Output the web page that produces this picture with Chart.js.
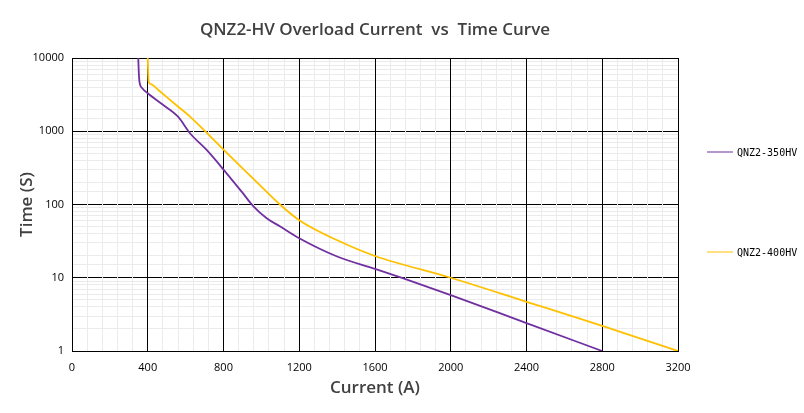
<!DOCTYPE html>
<html lang="en">

<head>
    <meta charset="UTF-8">
    <title>QNZ2-HV Overload Current vs Time Curve</title>
    <script src="https://cdn.jsdelivr.net/npm/chart.js"></script>
    <style>
        body {
            margin: 0;
            background: #ffffff;
        }

        .wrap {
            position: relative;
            width: 804px;
            height: 413px;
        }

        /* side legend, built from the datasets */
        .legend-item {
            position: absolute;
            left: 707px;
            display: flex;
            align-items: center;
            font-family: 'DejaVu Sans Mono', monospace;
            font-size: 10px;
            color: #000;
            transform: translateY(-50%);
        }

        .legend-item span.swatch {
            display: inline-block;
            width: 26px;
            height: 0;
            border-top: 1px solid;
            margin-right: 4px;
        }
    </style>
</head>

<body>
    <div class="wrap">
        <canvas id="curveChart"></canvas>
        <div id="legend"></div>
    </div>

    <script>
        // Data (current in A, time in s)
        const current350 = [350, 352, 356, 370, 400, 480, 560, 623, 711, 800, 900, 957, 1028, 1100, 1200, 1400, 1600, 1750, 2000, 2400, 2800];
        const time350 = [10000, 7000, 4800, 3900, 3300, 2300, 1580, 940, 555, 300, 145, 95, 65, 50, 34.6, 19.5, 13.2, 9.8, 5.8, 2.4, 1];

        const current400 = [400, 402, 405, 420, 456, 553, 623, 800, 1000, 1098, 1200, 1398, 1600, 2000, 2400, 2800, 3200];
        const time400 = [10000, 6500, 4750, 4370, 3650, 2250, 1580, 563, 175, 100, 61, 32.7, 19.8, 10, 4.7, 2.2, 1];

        const seriesNames = ['QNZ2-350HV', 'QNZ2-400HV'];
        const seriesColors = ['#7030a0', '#ffc000'];
        const legendY = [152, 252];

        const xMajor = [0, 400, 800, 1200, 1600, 2000, 2400, 2800, 3200];
        const yMajor = [1, 10, 100, 1000, 10000];

        function toPoints(xs, ys) {
            return xs.map((x, i) => ({ x: x, y: ys[i] }));
        }

        function isDecade(v) {
            return yMajor.includes(Math.round(v * 1000) / 1000);
        }

        const tickFont = { family: "'Open Sans', sans-serif", size: 11 };
        const titleFont = { family: "'Open Sans', sans-serif", size: 17, weight: '600' };

        const ctx = document.getElementById('curveChart').getContext('2d');
        const chart = new Chart(ctx, {
            type: 'line',
            data: {
                datasets: [
                    {
                        label: seriesNames[0],
                        data: toPoints(current350, time350),
                        borderColor: seriesColors[0],
                        borderWidth: 1.8,
                        pointRadius: 0,
                        fill: false,
                        cubicInterpolationMode: 'monotone'
                    },
                    {
                        label: seriesNames[1],
                        data: toPoints(current400, time400),
                        borderColor: seriesColors[1],
                        borderWidth: 1.8,
                        pointRadius: 0,
                        fill: false,
                        cubicInterpolationMode: 'monotone'
                    }
                ]
            },
            options: {
                responsive: true,
                maintainAspectRatio: false,
                animation: false,
                layout: {
                    padding: { left: 0, right: 126, top: 0, bottom: 0 }
                },
                plugins: {
                    legend: { display: false },
                    tooltip: { enabled: false },
                    title: {
                        display: true,
                        fullSize: false, // centre over the plot area
                        text: 'QNZ2-HV Overload Current  vs  Time Curve',
                        color: '#404040',
                        font: titleFont,
                        padding: { top: 20, bottom: 17.6 }
                    }
                },
                scales: {
                    x: {
                        type: 'linear',
                        position: 'bottom',
                        min: 0,
                        max: 3200,
                        afterFit: (scale) => { scale.height = 62; },
                        ticks: {
                            stepSize: 80,
                            autoSkip: false,
                            maxRotation: 0,
                            padding: 10,
                            color: '#000',
                            font: tickFont,
                            callback: (v) => xMajor.includes(v) ? v : ''
                        },
                        grid: {
                            drawTicks: false,
                            z: -1,
                            color: (c) => xMajor.includes(c.tick.value) ? '#000' : '#ebebeb'
                        },
                        border: { color: '#000', width: 1 },
                        title: {
                            display: true,
                            text: 'Current (A)',
                            color: '#404040',
                            font: titleFont,
                            padding: { top: 0, bottom: 15 }
                        }
                    },
                    xTop: {
                        type: 'linear',
                        position: 'top',
                        min: 0,
                        max: 3200,
                        afterFit: (scale) => { scale.height = 0; },
                        ticks: { display: false },
                        grid: { drawOnChartArea: false, drawTicks: false },
                        border: { color: '#000', width: 1 }
                    },
                    y: {
                        type: 'logarithmic',
                        min: 1,
                        max: 10000,
                        afterFit: (scale) => { scale.width = 72; },
                        ticks: {
                            autoSkip: false,
                            padding: 8,
                            color: '#000',
                            font: tickFont,
                            callback: (v) => isDecade(v) ? String(v) : ''
                        },
                        grid: {
                            drawTicks: false,
                            z: -2,
                            color: (c) => isDecade(c.tick.value) ? '#000' : '#ebebeb'
                        },
                        border: { color: '#000', width: 1 },
                        title: {
                            display: true,
                            text: 'Time (S)',
                            color: '#404040',
                            font: titleFont,
                            padding: { top: 17, bottom: 0 }
                        }
                    }
                }
            }
        });

        // Legend on the right, one entry per dataset
        const legendBox = document.getElementById('legend');
        chart.data.datasets.forEach((ds, i) => {
            const item = document.createElement('div');
            item.className = 'legend-item';
            item.style.top = legendY[i] + 'px';
            const sw = document.createElement('span');
            sw.className = 'swatch';
            sw.style.borderColor = ds.borderColor;
            item.appendChild(sw);
            item.appendChild(document.createTextNode(ds.label));
            legendBox.appendChild(item);
        });
    </script>
</body>

</html>
